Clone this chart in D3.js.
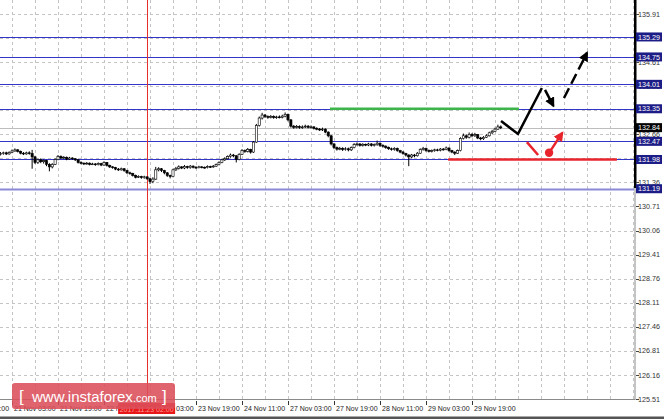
<!DOCTYPE html>
<html><head><meta charset="utf-8">
<script src="https://cdn.jsdelivr.net/npm/d3@7"></script>
<style>html,body{margin:0;padding:0;background:#fff;}svg{display:block;}</style>
</head><body>
<script>
// ---------- DATA ----------
const xTickLabels = ["20 Nov 11:00","21 Nov 03:00","21 Nov 19:00","22 Nov 11:00","23 Nov 03:00","23 Nov 19:00","24 Nov 11:00","27 Nov 03:00","27 Nov 19:00","28 Nov 11:00","29 Nov 03:00","29 Nov 19:00"];
const xTickIndex = [-12,4,20,36,52,68,84,100,116,132,148,164];
const yTickValues = [125.51,126.16,126.81,127.46,128.11,128.76,129.41,130.06,130.71,131.36,132.01,132.66,133.31,133.96,134.61,135.26,135.91];
const levels = [135.29,134.75,134.01,133.35,132.47,131.98,131.19];
const bidPrice = 132.84;
const markerIndex = 51; const markerLabel = "2017.11.23 02:00";
const firstOpen = 132.12;
const closes = [132.14,132.16,132.13,132.17,132.21,132.24,132.20,132.15,132.13,132.16,132.14,132.05,131.90,131.97,131.92,131.95,131.85,131.78,131.85,131.98,
132.06,132.02,132.04,131.99,132.02,132.00,131.97,131.90,131.88,131.86,131.88,131.85,131.86,131.84,131.87,131.83,131.90,131.82,131.78,131.76,
131.72,131.70,131.73,131.68,131.62,131.60,131.55,131.50,131.52,131.49,131.51,131.46,131.38,131.45,131.70,131.73,131.68,131.62,131.55,131.52,
131.70,131.74,131.78,131.75,131.79,131.76,131.80,131.77,131.76,131.78,131.77,131.76,131.79,131.78,131.80,131.84,131.90,131.97,132.00,132.06,
132.10,132.08,131.98,132.12,132.22,132.20,132.25,132.18,132.45,132.90,133.10,133.18,133.14,133.12,133.14,133.11,133.13,133.12,133.15,133.20,
133.05,132.88,132.85,132.87,132.84,132.86,132.88,132.85,132.86,132.82,132.80,132.78,132.80,132.72,132.62,132.40,132.30,132.26,132.28,132.25,
132.27,132.24,132.30,132.38,132.40,132.36,132.39,132.37,132.40,132.36,132.38,132.42,132.36,132.34,132.30,132.27,132.25,132.28,132.22,132.18,
132.14,132.10,132.05,132.10,132.08,132.15,132.25,132.28,132.22,132.20,132.22,132.24,132.23,132.26,132.25,132.29,132.22,132.18,132.15,132.22,
132.55,132.62,132.58,132.66,132.62,132.65,132.56,132.54,132.58,132.62,132.70,132.74,132.80,132.86,132.84];
const highs = [132.18,132.19,132.19,132.20,132.25,132.28,132.26,132.22,132.18,132.19,132.20,132.24,132.08,132.00,132.01,131.98,131.97,131.88,131.88,132.01,
132.10,132.09,132.07,132.06,132.05,132.04,132.02,131.99,131.93,131.90,131.91,131.90,131.89,131.88,131.90,131.89,131.93,131.91,131.84,131.80,
131.78,131.75,131.76,131.75,131.70,131.65,131.62,131.57,131.55,131.54,131.54,131.53,131.49,131.50,131.78,131.77,131.75,131.70,131.64,131.57,
131.73,131.78,131.82,131.80,131.83,131.81,131.83,131.82,131.80,131.81,131.80,131.79,131.82,131.81,131.83,131.87,131.93,132.00,132.04,132.09,
132.14,132.13,132.10,132.15,132.26,132.25,132.29,132.27,132.48,132.94,133.14,133.24,133.21,133.17,133.18,133.17,133.16,133.17,133.19,133.25,
133.22,133.07,132.91,132.91,132.90,132.90,132.92,132.91,132.90,132.88,132.85,132.83,132.84,132.82,132.74,132.64,132.42,132.33,132.32,132.31,
132.31,132.30,132.33,132.42,132.44,132.42,132.42,132.41,132.43,132.42,132.41,132.49,132.44,132.39,132.36,132.33,132.30,132.31,132.30,132.24,
132.21,132.16,132.12,132.13,132.13,132.18,132.28,132.32,132.30,132.25,132.25,132.27,132.27,132.29,132.29,132.33,132.31,132.24,132.20,132.25,
132.58,132.68,132.66,132.71,132.69,132.70,132.67,132.59,132.61,132.66,132.73,132.78,132.84,132.92,132.90];
const lows = [132.09,132.11,132.10,132.11,132.15,132.19,132.17,132.12,132.10,132.11,132.11,131.73,131.86,131.86,131.88,131.87,131.80,131.66,131.74,131.83,
131.96,131.99,131.99,131.96,131.97,131.97,131.94,131.87,131.85,131.83,131.84,131.82,131.83,131.81,131.82,131.80,131.81,131.79,131.75,131.73,
131.69,131.67,131.68,131.65,131.59,131.57,131.52,131.47,131.48,131.46,131.46,131.43,131.32,131.34,131.43,131.66,131.64,131.58,131.51,131.47,
131.50,131.67,131.71,131.72,131.72,131.73,131.73,131.74,131.73,131.74,131.74,131.73,131.74,131.75,131.76,131.78,131.82,131.88,131.94,131.98,
132.03,132.04,131.90,131.96,132.10,132.16,132.17,132.14,132.16,132.43,132.87,133.06,133.10,133.08,133.09,133.08,133.08,133.09,133.09,133.12,
133.01,132.84,132.81,132.82,132.81,132.81,132.83,132.82,132.82,132.79,132.77,132.75,132.75,132.69,132.58,132.36,132.26,132.22,132.23,132.21,
132.22,132.20,132.21,132.28,132.35,132.33,132.33,132.34,132.34,132.33,132.33,132.35,132.32,132.30,132.27,132.24,132.22,132.22,132.19,132.15,
132.11,132.06,131.80,132.01,132.04,132.06,132.13,132.22,132.19,132.17,132.17,132.19,132.20,132.20,132.22,132.23,132.19,132.15,132.10,132.13,
132.20,132.52,132.54,132.55,132.58,132.59,132.53,132.50,132.51,132.56,132.60,132.67,132.72,132.78,132.80];
// forecast annotations in (bar index, price)
const greenLevel = {from:114.6, to:180.3, price:133.35};
const redLevel = {from:155.7, to:214.4, price:131.98};
const blackPath = [[174.1,133.02],[180.0,132.67],[188.3,133.91]];
const blackArrow = [[189.4,133.86],[192.3,133.43]];
const dashedArrow = [[196.0,133.64],[204.0,134.86]];
const redStroke = [[183.1,132.45],[187.0,132.10]];
const redDot = [190.8,132.16];
const redArrow = [[190.8,132.16],[195.4,132.70]];

// ---------- LAYOUT ----------
const W=664,H=419, plotR=634, plotB=399;
const x = d3.scaleLinear().domain([0,220]).range([0.5,0.5+2.875*220]);
const y = d3.scaleLinear().domain([125.51,135.91]).range([399,14]);
const svg = d3.select("body").append("svg").attr("width",W).attr("height",H);
svg.append("rect").attr("width",W).attr("height",H).attr("fill","#fff");
const defs = svg.append("defs");
defs.append("clipPath").attr("id","plot").append("rect").attr("x",0).attr("y",0).attr("width",plotR).attr("height",plotB);
function mk(id,color){
  defs.append("marker").attr("id",id).attr("viewBox","0 0 10 10").attr("refX",8).attr("refY",5)
   .attr("markerWidth",4).attr("markerHeight",4).attr("orient","auto").attr("markerUnits","strokeWidth")
   .append("path").attr("d","M0,0 L10,5 L0,10 z").attr("fill",color);
}
mk("ab","#000"); mk("ar","#e8242c");
const g = svg.append("g").attr("clip-path","url(#plot)");
const font = "Liberation Sans, Arial, sans-serif";

// grid
const gridX = d3.range(4,221,8);
g.selectAll(".gx").data(gridX).join("line").attr("x1",d=>Math.round(x(d))+0.5).attr("x2",d=>Math.round(x(d))+0.5)
 .attr("y1",0).attr("y2",plotB).attr("stroke","#c4c4c4").attr("stroke-dasharray","3,3");
g.selectAll(".gy").data(yTickValues).join("line").attr("x1",0).attr("x2",plotR)
 .attr("y1",d=>Math.round(y(d))+0.5).attr("y2",d=>Math.round(y(d))+0.5).attr("stroke","#c4c4c4").attr("stroke-dasharray","3,3");

// levels
g.selectAll(".lv").data(levels).join("line").attr("x1",0).attr("x2",plotR)
 .attr("y1",d=>Math.round(y(d))+0.5).attr("y2",d=>Math.round(y(d))+0.5)
 .attr("stroke",d=>d===131.19?"#8a8ad6":"#3434c8").attr("stroke-width",d=>d===131.19?2:1.2);
// bid line
g.append("line").attr("x1",0).attr("x2",plotR).attr("y1",Math.round(y(bidPrice))+0.5).attr("y2",Math.round(y(bidPrice))+0.5).attr("stroke","#bdbdbd");
// marker vertical line
g.append("line").attr("x1",Math.round(x(markerIndex))+0.5).attr("x2",Math.round(x(markerIndex))+0.5).attr("y1",0).attr("y2",plotB).attr("stroke","#e8302a");

// candles
const candles = closes.map((c,i)=>({i, o: i===0?firstOpen:closes[i-1], c, h:highs[i], l:lows[i]}));
g.selectAll(".wk").data(candles).join("line").attr("x1",d=>x(d.i)).attr("x2",d=>x(d.i))
 .attr("y1",d=>y(d.h)).attr("y2",d=>y(d.l)).attr("stroke","#000").attr("stroke-width",1);
g.selectAll(".bd").data(candles).join("rect").attr("x",d=>x(d.i)-1.1).attr("width",2.2)
 .attr("y",d=>y(Math.max(d.o,d.c))).attr("height",d=>Math.max(0.8,Math.abs(y(d.o)-y(d.c))))
 .attr("fill",d=>d.c>d.o?"#fff":"#000").attr("stroke","#000").attr("stroke-width",0.6);

// green / red levels
g.append("line").attr("x1",x(greenLevel.from)).attr("x2",x(greenLevel.to)).attr("y1",y(greenLevel.price)).attr("y2",y(greenLevel.price))
 .attr("stroke","#3cb44a").attr("stroke-width",2.5);
g.append("line").attr("x1",x(redLevel.from)).attr("x2",x(redLevel.to)).attr("y1",y(redLevel.price)).attr("y2",y(redLevel.price))
 .attr("stroke","#e8242c").attr("stroke-width",2.5);

// arrows
const ln = d3.line().x(d=>x(d[0])).y(d=>y(d[1]));
g.append("path").attr("d",ln(blackPath)).attr("fill","none").attr("stroke","#000").attr("stroke-width",2.5);
g.append("path").attr("d",ln(blackArrow)).attr("fill","none").attr("stroke","#000").attr("stroke-width",2.5).attr("marker-end","url(#ab)");
g.append("path").attr("d",ln(dashedArrow)).attr("fill","none").attr("stroke","#000").attr("stroke-width",2.5).attr("stroke-dasharray","11,5").attr("marker-end","url(#ab)");
g.append("path").attr("d",ln(redStroke)).attr("fill","none").attr("stroke","#e8242c").attr("stroke-width",2.5);
g.append("circle").attr("cx",x(redDot[0])).attr("cy",y(redDot[1])).attr("r",4.2).attr("fill","#e8242c");
g.append("path").attr("d",ln(redArrow)).attr("fill","none").attr("stroke","#e8242c").attr("stroke-width",2.5).attr("marker-end","url(#ar)");

// frame
svg.append("line").attr("x1",0).attr("x2",plotR+1).attr("y1",plotB+0.5).attr("y2",plotB+0.5).attr("stroke","#8a8a8a");
svg.append("line").attr("x1",plotR+1).attr("x2",plotR+1).attr("y1",188).attr("y2",plotB+1).attr("stroke","#8a8a8a");
svg.append("rect").attr("x",plotR).attr("y",0).attr("width",2.5).attr("height",188).attr("fill","#000");

// y axis
const ya = svg.append("g");
ya.selectAll("line").data(yTickValues).join("line").attr("x1",plotR+2).attr("x2",plotR+5)
 .attr("y1",d=>Math.round(y(d))+0.5).attr("y2",d=>Math.round(y(d))+0.5).attr("stroke","#444");
ya.selectAll("text").data(yTickValues).join("text").attr("x",plotR+4).attr("y",d=>y(d)+2.6)
 .attr("font-family",font).attr("font-size",7.2).attr("fill","#333").text(d=>d.toFixed(2));
const lb = svg.append("g");
lb.selectAll("rect").data(levels).join("rect").attr("x",plotR+2).attr("y",d=>y(d)-4.5).attr("width",26).attr("height",9).attr("fill","#1c1c86");
lb.selectAll("text").data(levels).join("text").attr("x",plotR+4).attr("y",d=>y(d)+2.6)
 .attr("font-family",font).attr("font-size",7.2).attr("fill","#fff").text(d=>d.toFixed(2));
svg.append("rect").attr("x",plotR+2).attr("y",y(bidPrice)-4.5).attr("width",26).attr("height",9).attr("fill","#000");
svg.append("text").attr("x",plotR+4).attr("y",y(bidPrice)+2.6).attr("font-family",font).attr("font-size",7.2).attr("fill","#fff").text(bidPrice.toFixed(2));

// x axis
const xa = svg.append("g");
xa.selectAll("line").data(xTickIndex).join("line").attr("x1",d=>Math.round(x(d))+0.5).attr("x2",d=>Math.round(x(d))+0.5)
 .attr("y1",plotB+2).attr("y2",plotB+6).attr("stroke","#333");
xa.selectAll("text").data(xTickIndex).join("text").attr("x",d=>x(d)+2).attr("y",411)
 .attr("font-family",font).attr("font-size",7).attr("fill","#222").text((d,i)=>xTickLabels[i]);
// marker label
svg.append("rect").attr("x",x(markerIndex)-29).attr("y",403).attr("width",57).attr("height",11).attr("fill","#e81818");
svg.append("text").attr("x",x(markerIndex)-0.5).attr("y",411.5).attr("text-anchor","middle").attr("font-family",font).attr("font-size",7)
 .attr("fill","#ff9c9c").text(markerLabel);

// bottom strip
svg.append("rect").attr("x",0).attr("y",416.5).attr("width",W).attr("height",2.5).attr("fill","#555");

// logo
const lg = svg.append("g");
lg.append("rect").attr("x",12).attr("y",383).attr("width",163).attr("height",26).attr("rx",3).attr("fill","#dc4e5a").attr("opacity",0.88);
lg.append("text").attr("x",19).attr("y",402).attr("font-family",font).attr("font-size",17).attr("fill","#fff").text("[");
lg.append("text").attr("x",32).attr("y",402).attr("font-family",font).attr("font-size",15).attr("fill","#fff")
 .text("www.instaforex").append("tspan").attr("font-size",11).text(".com");
lg.append("text").attr("x",162).attr("y",402).attr("font-family",font).attr("font-size",17).attr("fill","#fff").text("]");
</script>
</body></html>
